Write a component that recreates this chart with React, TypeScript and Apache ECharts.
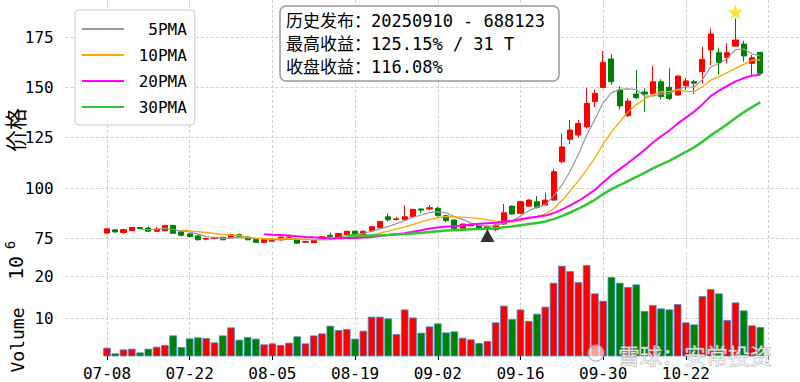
import React, { useEffect, useRef } from 'react';
import * as echarts from 'echarts';

// ---------- data ----------
const dates = [
  '07-08','07-09','07-10','07-11','07-14','07-15','07-16','07-17','07-18','07-21',
  '07-22','07-23','07-24','07-25','07-28','07-29','07-30','07-31','08-01','08-04',
  '08-05','08-06','08-07','08-08','08-11','08-12','08-13','08-14','08-15','08-18',
  '08-19','08-20','08-21','08-22','08-25','08-26','08-27','08-28','08-29','09-01',
  '09-02','09-03','09-04','09-05','09-08','09-09','09-10','09-11','09-12','09-15',
  '09-16','09-17','09-18','09-19','09-22','09-23','09-24','09-25','09-26','09-29',
  '09-30','10-09','10-10','10-13','10-14','10-15','10-16','10-17','10-20','10-21',
  '10-22','10-23','10-24','10-27','10-28','10-29','10-30','10-31','11-03','11-04',
];

const opens = [
  77.6, 79.2, 77.9, 78.8, 80.4, 80.1, 78.5, 78.8, 81.4, 78.2,
  77.2, 76.2, 74.6, 75.0, 75.5, 75.5, 76.8, 75.6, 74.6, 73.0,
  73.6, 74.2, 75.3, 74.5, 73.1, 72.9, 74.5, 76.5, 75.5, 76.8,
  78.5, 76.9, 78.8, 80.2, 85.7, 84.3, 84.2, 85.7, 89.6, 89.6,
  89.9, 86.2, 84.1, 80.0, 81.2, 81.5, 80.1, 79.3, 82.1, 91.0,
  87.4, 91.0, 93.2, 91.5, 94.0, 113.0, 124.2, 126.3, 130.4, 142.9,
  149.9, 164.1, 148.7, 135.9, 146.7, 147.7, 146.7, 152.8, 150.0, 146.2,
  150.8, 152.8, 157.8, 168.6, 167.2, 164.9, 170.5, 171.5, 161.9, 167.4,
];
const closes = [
  79.7, 78.2, 79.3, 80.4, 79.9, 78.5, 79.6, 81.4, 77.5, 76.5,
  75.9, 74.3, 74.9, 75.4, 74.3, 76.8, 75.9, 74.3, 73.0, 74.3,
  74.5, 75.6, 75.6, 72.6, 73.4, 74.2, 75.8, 76.0, 77.4, 78.5,
  77.2, 78.5, 80.8, 83.4, 84.2, 84.7, 85.7, 89.4, 89.0, 90.2,
  86.3, 83.8, 79.7, 82.1, 81.6, 80.1, 81.0, 81.6, 87.7, 87.1,
  93.2, 94.0, 90.4, 94.0, 108.1, 120.4, 128.8, 132.1, 142.0, 147.0,
  162.4, 152.8, 140.8, 143.2, 144.9, 146.7, 152.8, 145.5, 144.4, 155.6,
  153.2, 152.1, 163.9, 176.5, 162.3, 167.2, 173.5, 165.6, 164.7, 157.0,
];
const lows = [
  77.3, 77.8, 77.3, 78.6, 79.6, 78.2, 78.2, 78.5, 77.2, 75.9,
  75.5, 73.9, 74.0, 74.5, 74.0, 75.3, 75.5, 74.0, 72.7, 72.7,
  73.3, 74.0, 75.0, 72.2, 72.8, 72.7, 74.3, 75.5, 75.3, 76.6,
  76.9, 76.7, 78.6, 80.0, 83.4, 84.0, 84.0, 85.5, 87.4, 89.0,
  85.8, 83.0, 79.2, 79.8, 80.9, 79.8, 79.7, 78.5, 81.8, 86.8,
  87.0, 90.6, 89.8, 91.2, 93.8, 112.5, 121.8, 125.1, 129.6, 140.1,
  149.5, 151.2, 139.1, 135.4, 144.2, 137.9, 145.7, 144.0, 143.7, 145.7,
  148.7, 146.7, 152.0, 161.1, 156.2, 162.0, 170.2, 162.8, 155.3, 156.2,
];
const highs = [
  80.0, 79.6, 79.8, 80.6, 80.5, 81.0, 80.7, 81.7, 81.8, 78.8,
  77.6, 76.4, 75.2, 75.7, 75.7, 77.4, 77.4, 76.0, 75.0, 74.6,
  74.8, 75.8, 76.0, 74.8, 73.8, 74.4, 76.0, 77.8, 77.6, 78.7,
  78.8, 78.8, 81.0, 83.6, 87.4, 85.6, 91.5, 89.6, 89.8, 91.5,
  90.6, 86.5, 84.3, 82.3, 82.2, 81.8, 81.3, 81.9, 92.0, 91.3,
  93.5, 94.3, 96.0, 97.7, 109.5, 127.1, 133.8, 133.8, 149.5, 148.7,
  168.0, 166.4, 150.6, 144.6, 158.6, 149.5, 160.6, 154.0, 159.5, 156.1,
  154.5, 153.7, 170.2, 179.3, 169.7, 171.9, 184.3, 173.2, 166.1, 167.7,
];
// volume, in units of 10^6
const volumes = [
  3.06, 1.72, 2.66, 2.82, 1.95, 2.82, 3.29, 3.69, 5.97, 3.22,
  5.26, 5.5, 5.34, 4.32, 5.97, 7.86, 4.95, 5.58, 5.19, 3.85,
  4.08, 3.69, 4.24, 5.74, 4.08, 5.97, 6.45, 8.26, 7.23, 7.47,
  5.19, 7.08, 10.4, 10.4, 10.0, 6.3, 12.1, 10.2, 6.6, 8.1,
  8.81, 6.68, 6.92, 5.42, 5.03, 4.16, 4.63, 9.05, 12.99, 9.83,
  12.1, 9.36, 11.09, 12.75, 18.42, 22.44, 21.18, 18.58, 22.6, 15.9,
  14.17, 19.76, 18.42, 17.4, 18.03, 11.73, 13.14, 12.36, 12.12, 13.38,
  9.05, 8.57, 15.27, 16.92, 15.9, 9.6, 13.77, 11.88, 8.34, 7.94,
];

const maPeriods = [5, 10, 20, 30];
const maNames = ['5PMA', '10PMA', '20PMA', '30PMA'];
const maColors = ['#999999', '#FFA500', '#FF00FF', '#2EC82E'];
const maWidths = [1.2, 1.3, 2, 2.5];

const releaseDate = '09-10';
const infoLines = [
  '历史发布：20250910 - 688123',
  '最高收益：125.15% / 31 T',
  '收盘收益：116.08%',
];
const watermark = '雪球：安常投资';

// ---------- helpers ----------
const PAD_L = 5;
const PAD_R = 5;
const categories = [
  ...Array.from({ length: PAD_L }, (_, i) => `padL${i}`),
  ...dates,
  ...Array.from({ length: PAD_R }, (_, i) => `padR${i}`),
];
const tickShown = (index: number) => index >= PAD_L && (index - PAD_L) % 10 === 0;
const labelText = (v: string) => (v.startsWith('pad') ? '' : v);

const movingAverage = (n: number) => {
  const out: (number[])[] = [];
  for (let i = n - 1; i < closes.length; i++) {
    let s = 0;
    for (let k = i - n + 1; k <= i; k++) s += closes[k];
    out.push([i + PAD_L, +(s / n).toFixed(3)]);
  }
  return out;
};

const RED = '#FF0000';
const GREEN = '#008000';
const MONO = "'DejaVu Sans Mono', 'Noto Sans CJK SC', monospace";
const CJK = "'Noto Sans CJK SC', sans-serif";
const NB = '\u00a0';
const GRID_LINE = { show: true, lineStyle: { color: '#c4c4c4', width: 0.8, type: [3, 2] as any } };

export default function App() {
  const ref = useRef<HTMLDivElement>(null);

  useEffect(() => {
    if (!ref.current) return;
    const chart = echarts.init(ref.current, undefined, { renderer: 'svg' });

    const candleData = dates.map((_, i) => [i + PAD_L, opens[i], closes[i], lows[i], highs[i]]);
    const volData = volumes.map((v, i) => ({
      value: [i + PAD_L, v],
      itemStyle: { color: closes[i] >= opens[i] ? RED : GREEN },
    }));

    const relIdx = dates.indexOf(releaseDate);
    let maxIdx = 0;
    highs.forEach((h, i) => { if (h > highs[maxIdx]) maxIdx = i; });

    const starPath =
      'path://M50,0 L61,35 L98,35 L68,57 L79,91 L50,70 L21,91 L32,57 L2,35 L39,35 Z';

    const option: any = {
      animation: false,
      backgroundColor: '#ffffff',
      title: {
        text: infoLines.join('\n'),
        left: 280,
        top: 6,
        padding: [3, 14, 3, 6],
        backgroundColor: 'rgba(255,255,255,0.85)',
        borderColor: '#999999',
        borderWidth: 1.5,
        borderRadius: 6,
        textStyle: {
          fontFamily: MONO,
          fontSize: 17,
          fontWeight: 'normal',
          color: '#000',
          lineHeight: 23,
        },
      },
      legend: {
        data: maNames,
        orient: 'vertical',
        left: 75,
        top: 10,
        padding: [11, 8, 10, 7],
        itemGap: 10,
        itemWidth: 42,
        itemHeight: 2,
        icon: 'rect',
        backgroundColor: 'rgba(255,255,255,0.85)',
        borderColor: '#cccccc',
        borderWidth: 1,
        borderRadius: 4,
        formatter: (name: string) => (name.length < 5 ? NB + NB + name : NB + name),
        textStyle: { fontFamily: MONO, fontSize: 16, color: '#000', lineHeight: 16 },
      },
      grid: [
        { left: 65.65, width: 736, top: 0, height: 250, outerBoundsMode: 'none' },
        { left: 65.65, width: 736, top: 252, height: 104, outerBoundsMode: 'none' },
      ],
      xAxis: [
        {
          type: 'category', gridIndex: 0, data: categories, boundaryGap: false,
          axisLine: { show: false }, axisTick: { show: false }, axisLabel: { show: false },
          splitLine: { ...GRID_LINE, interval: (i: number) => tickShown(i) },
        },
        {
          type: 'category', gridIndex: 1, data: categories, boundaryGap: false,
          axisLine: { show: false },
          axisTick: { show: true, length: 4, interval: (i: number) => tickShown(i), lineStyle: { color: '#000' } },
          axisLabel: {
            show: true, interval: (i: number) => tickShown(i), formatter: labelText,
            fontFamily: MONO, fontSize: 16, color: '#000', margin: 9,
          },
          splitLine: { ...GRID_LINE, interval: (i: number) => tickShown(i) },
        },
      ],
      yAxis: [
        {
          type: 'value', gridIndex: 0, min: 69.2, max: 193.4,
          minInterval: 25, maxInterval: 25, splitNumber: 5,
          axisLine: { show: false }, axisTick: { show: false },
          axisLabel: { fontFamily: MONO, fontSize: 16, color: '#000', margin: 12, showMinLabel: false, showMaxLabel: false },
          splitLine: { ...GRID_LINE, showMinLine: false, showMaxLine: false },
        },
        {
          type: 'value', gridIndex: 1, min: 1.1, max: 25.7,
          minInterval: 10, maxInterval: 10, splitNumber: 2,
          axisLine: { show: false }, axisTick: { show: false },
          axisLabel: { fontFamily: MONO, fontSize: 16, color: '#000', margin: 12, showMinLabel: false, showMaxLabel: false },
          splitLine: { ...GRID_LINE, showMinLine: false, showMaxLine: false },
        },
      ],
      series: [
        {
          type: 'candlestick', name: 'K', xAxisIndex: 0, yAxisIndex: 0,
          data: candleData, encode: { x: 0, y: [1, 2, 3, 4] },
          barWidth: 5.6,
          itemStyle: { color: RED, color0: GREEN, borderColor: RED, borderColor0: GREEN, borderWidth: 1 },
        },
        ...maPeriods.map((n, k) => ({
          type: 'line', name: maNames[k], xAxisIndex: 0, yAxisIndex: 0,
          data: movingAverage(n), showSymbol: false, symbol: 'none', smooth: false,
          lineStyle: { color: maColors[k], width: maWidths[k] },
          itemStyle: { color: maColors[k] },
          z: 3,
        })),
        {
          type: 'scatter', name: 'markers', xAxisIndex: 0, yAxisIndex: 0, z: 5,
          data: [
            { value: [relIdx + PAD_L, lows[relIdx] - 3.3], symbol: 'triangle', symbolSize: [14, 13], itemStyle: { color: '#000' } },
            { value: [maxIdx + PAD_L, highs[maxIdx] + 3.1], symbol: starPath, symbolSize: [16, 15], itemStyle: { color: '#FFD700' } },
          ],
        },
        {
          type: 'bar', name: 'Volume', xAxisIndex: 1, yAxisIndex: 1,
          data: volData, encode: { x: 0, y: 1 }, barWidth: 7.6,
          itemStyle: { borderColor: '#3d8fd6', borderWidth: 0.8 },
        },
      ],
      graphic: [
        {
          type: 'text', x: 14, y: 130, rotation: Math.PI / 2,
          style: { text: '价格', font: `22px ${CJK}`, fill: '#000', align: 'center', verticalAlign: 'middle' },
        },
        {
          type: 'text', x: 17, y: 340, rotation: Math.PI / 2,
          style: { text: 'Volume', font: `18px ${MONO}`, fill: '#000', align: 'center', verticalAlign: 'middle' },
        },
        {
          type: 'text', x: 16, y: 268, rotation: Math.PI / 2,
          style: { text: '10', font: `20px ${MONO}`, fill: '#000', align: 'center', verticalAlign: 'middle' },
        },
        {
          type: 'text', x: 10, y: 245, rotation: Math.PI / 2,
          style: { text: '6', font: `14px ${MONO}`, fill: '#000', align: 'center', verticalAlign: 'middle' },
        },
        {
          type: 'circle', shape: { cx: 596, cy: 353, r: 8 },
          style: { fill: 'rgba(255,255,255,0.6)', stroke: 'rgba(150,150,150,0.7)', lineWidth: 1.2 },
          z: 100,
        },
        {
          type: 'text', x: 618, y: 354, z: 100,
          style: {
            text: watermark, font: `22px ${CJK}`, fill: 'rgba(255,255,255,0.75)',
            stroke: 'rgba(150,150,150,0.75)', lineWidth: 1, align: 'left', verticalAlign: 'middle',
          },
        },
      ],
    };

    chart.setOption(option);
    return () => chart.dispose();
  }, []);

  return (
    <div
      ref={ref}
      style={{ position: 'fixed', left: 0, top: 0, width: 800, height: 382, background: '#fff' }}
    />
  );
}
